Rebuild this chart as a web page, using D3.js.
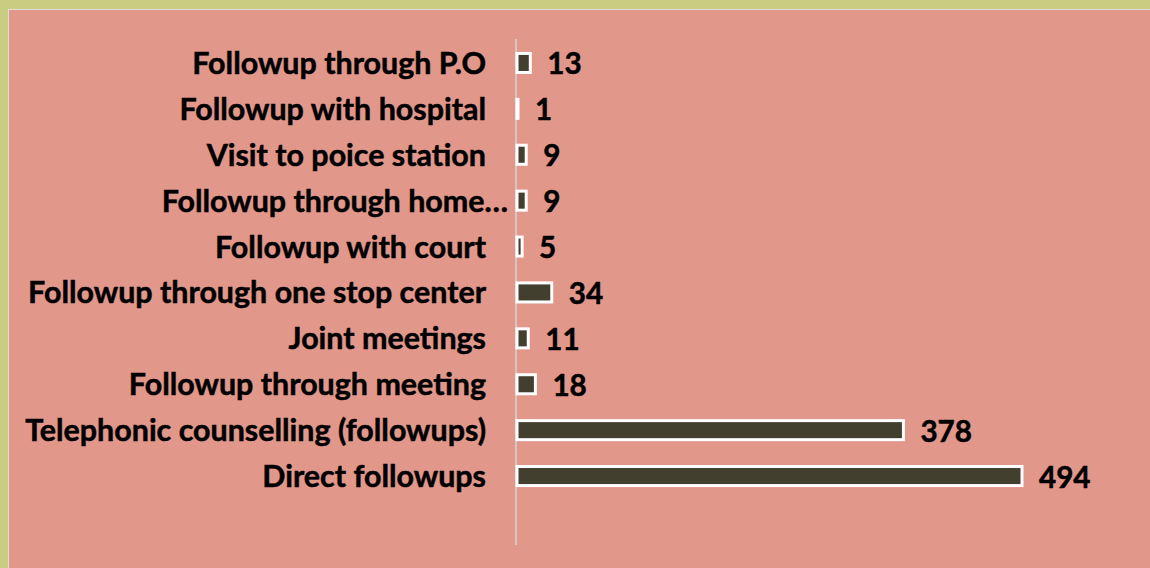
<!DOCTYPE html>
<html>
<head>
<meta charset="utf-8">
<script src="https://cdn.jsdelivr.net/npm/d3@7"></script>
<style>
  html, body { margin: 0; padding: 0; background: #c9cd82; }
  svg { display: block; }
</style>
</head>
<body>
<svg id="chart" width="1150" height="568"></svg>
<script>
// categories top to bottom, as shown
const categories = [
  "Followup through P.O",
  "Followup with hospital",
  "Visit to poice station",
  "Followup through home…",
  "Followup with court",
  "Followup through one stop center",
  "Joint meetings",
  "Followup through meeting",
  "Telephonic counselling (followups)",
  "Direct followups"
];
const values = [13, 1, 9, 9, 5, 34, 11, 18, 378, 494];

const svg = d3.select("#chart");
const font = "Lato, 'Open Sans', sans-serif";

// pink panel inside the olive frame
svg.append("rect").attr("x", 8.5).attr("y", 9.5).attr("width", 1160).attr("height", 580)
  .attr("fill", "#e2978b").attr("stroke", "#dcdcdc").attr("stroke-width", 1);

const x0 = 517;
const x = d3.scaleLinear().domain([0, 494]).range([x0, 1022]);
const pad = 0.585;
const y = d3.scaleBand().domain(categories).range([40, 499]).paddingInner(pad).paddingOuter(pad / 2);

// axis line
svg.append("line").attr("x1", x0 - 1).attr("x2", x0 - 1).attr("y1", 39).attr("y2", 545)
  .attr("stroke", "#d4d4d4").attr("stroke-width", 1.5);

const rows = categories.map((c, i) => ({ cat: c, val: values[i] }));

svg.append("g").selectAll("rect").data(rows).enter().append("rect")
  .attr("x", x0)
  .attr("y", d => y(d.cat))
  .attr("width", d => x(d.val) - x0)
  .attr("height", y.bandwidth())
  .attr("fill", "#433f2e")
  .attr("stroke", "#ffffff").attr("stroke-width", 3);

// truncated label runs past the others, up to the axis
const catText = svg.append("g").selectAll("text").data(rows).enter().append("text")
  .attr("x", d => d.cat.endsWith("…") ? 508 : 486)
  .attr("y", d => y(d.cat) + y.bandwidth() / 2 - 1)
  .attr("text-anchor", "end").attr("dominant-baseline", "central")
  .style("font-family", font).style("font-weight", "bold").style("font-size", "30px")
  .attr("fill", "#000").attr("stroke", "#000").attr("stroke-width", 0.5)
  .text(d => d.cat);

// fit the longest label to the width seen in the picture
const longest = d3.max(catText.nodes(), n => n.getComputedTextLength());
const fs = 30 * 461 / longest;
catText.style("font-size", fs + "px");

svg.append("g").selectAll("text").data(rows).enter().append("text")
  .attr("x", d => x(d.val) + 17)
  .attr("y", d => y(d.cat) + y.bandwidth() / 2)
  .attr("dominant-baseline", "central")
  .style("font-family", font).style("font-weight", "bold").style("font-size", (fs - 0.8) + "px")
  .attr("fill", "#000").attr("stroke", "#000").attr("stroke-width", 0.5)
  .text(d => d.val);
</script>
</body>
</html>
